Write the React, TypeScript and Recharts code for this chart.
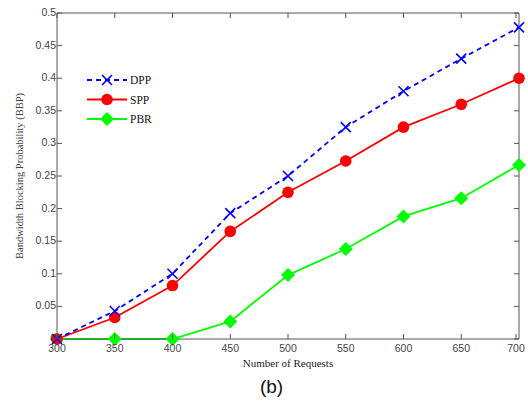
import React from "react";
import { LineChart, Line, XAxis, YAxis } from "recharts";

const requests = [300, 350, 400, 450, 500, 550, 600, 650, 700];
const dpp = [0, 0.043, 0.1, 0.193, 0.25, 0.325, 0.38, 0.43, 0.478];
const spp = [0, 0.033, 0.082, 0.165, 0.225, 0.273, 0.325, 0.36, 0.4];
const pbr = [0, 0, 0, 0.027, 0.098, 0.138, 0.188, 0.216, 0.267];
const yTicks = [0, 0.05, 0.1, 0.15, 0.2, 0.25, 0.3, 0.35, 0.4, 0.45, 0.5];

const data = requests.map((r, i) => ({
  req: r,
  DPP: dpp[i],
  SPP: spp[i],
  PBR: pbr[i],
}));

const axisColor = "#555555";
const tickColor = "#444444";

const CrossDot = (props: any) => {
  const { cx, cy } = props;
  if (cx == null || cy == null) return null;
  const s = 5;
  return (
    <g stroke="#0000ff" strokeWidth={1.6}>
      <line x1={cx - s} y1={cy - s} x2={cx + s} y2={cy + s} />
      <line x1={cx - s} y1={cy + s} x2={cx + s} y2={cy - s} />
    </g>
  );
};

const CircleDot = (props: any) => {
  const { cx, cy } = props;
  if (cx == null || cy == null) return null;
  return <circle cx={cx} cy={cy} r={5.8} fill="#ff0000" />;
};

const DiamondDot = (props: any) => {
  const { cx, cy } = props;
  if (cx == null || cy == null) return null;
  const s = 7;
  return (
    <polygon
      points={`${cx},${cy - s} ${cx + s},${cy} ${cx},${cy + s} ${cx - s},${cy}`}
      fill="#00ff00"
    />
  );
};

// ticks point inward like the MATLAB figure
const BottomTick = (props: any) => {
  const { x, y, payload } = props;
  return (
    <g>
      <line x1={x} y1={y} x2={x} y2={y - 5} stroke={axisColor} />
      <text x={x} y={y + 13} textAnchor="middle" fontSize={10.5} fill={tickColor} fontFamily="Arial, Liberation Sans, sans-serif">
        {payload.value}
      </text>
    </g>
  );
};

const TopTick = (props: any) => {
  const { x, y } = props;
  return <line x1={x} y1={y} x2={x} y2={y + 5} stroke={axisColor} />;
};

const LeftTick = (props: any) => {
  const { x, y, payload } = props;
  return (
    <g>
      <line x1={x} y1={y} x2={x + 5} y2={y} stroke={axisColor} />
      <text x={x - 1} y={y + 3} textAnchor="end" fontSize={10.5} fill={tickColor} fontFamily="Arial, Liberation Sans, sans-serif">
        {payload.value}
      </text>
    </g>
  );
};

const RightTick = (props: any) => {
  const { x, y } = props;
  return <line x1={x} y1={y} x2={x - 5} y2={y} stroke={axisColor} />;
};

const legendRows = [
  { name: "DPP", color: "#0000ff", dash: "5 4", Dot: CrossDot },
  { name: "SPP", color: "#ff0000", dash: undefined, Dot: CircleDot },
  { name: "PBR", color: "#00ff00", dash: undefined, Dot: DiamondDot },
];

const LegendBox = () => (
  <svg width={80} height={60} style={{ position: "absolute", left: 85, top: 70 }}>
    {legendRows.map((r, i) => {
      const y = 10 + i * 19.5;
      const D = r.Dot;
      return (
        <g key={r.name}>
          <line x1={2} y1={y} x2={42} y2={y} stroke={r.color} strokeWidth={1.8} strokeDasharray={r.dash} />
          <D cx={22} cy={y} />
          <text x={45} y={y + 4} fontSize={11.5} fontFamily="Times New Roman, Liberation Serif, serif" fill="#111">
            {r.name}
          </text>
        </g>
      );
    })}
  </svg>
);

export default function App() {
  return (
    <div style={{ position: "absolute", left: 0, top: 0, width: 528, height: 404, background: "#fff" }}>
      <LineChart
        width={528}
        height={404}
        data={data}
        margin={{ top: 12, right: 8, left: 0, bottom: 35 }}
      >
        <XAxis
          dataKey="req"
          type="number"
          domain={[300, 700]}
          ticks={requests}
          tickLine={false}
          tickSize={0}
          tickMargin={0}
          tick={<BottomTick />}
          axisLine={{ stroke: axisColor }}
          height={30}
          label={{
            value: "Number of Requests",
            position: "insideBottom",
            offset: 2,
            style: { fontSize: 11, fill: "#222", fontFamily: "Times New Roman, Liberation Serif, serif" },
          }}
        />
        <XAxis
          xAxisId="top"
          dataKey="req"
          type="number"
          orientation="top"
          domain={[300, 700]}
          ticks={requests}
          tickLine={false}
          tickSize={0}
          tickMargin={0}
          tick={<TopTick />}
          axisLine={{ stroke: axisColor }}
          height={1}
        />
        <YAxis
          type="number"
          domain={[0, 0.5]}
          ticks={yTicks}
          tickLine={false}
          tickSize={0}
          tickMargin={0}
          tick={<LeftTick />}
          axisLine={{ stroke: axisColor }}
          width={57}
          label={{
            value: "Bandwidth Blocking Probability (BBP)",
            angle: -90,
            position: "insideLeft",
            offset: 19,
            style: { textAnchor: "middle", fontSize: 10.5, fill: "#444", fontFamily: "Times New Roman, Liberation Serif, serif" },
          }}
        />
        <YAxis
          yAxisId="right"
          orientation="right"
          type="number"
          domain={[0, 0.5]}
          ticks={yTicks}
          tickLine={false}
          tickSize={0}
          tickMargin={0}
          tick={<RightTick />}
          axisLine={{ stroke: axisColor }}
          width={1}
        />
        {/* invisible series so the top/right frame axes get rendered */}
        <Line
          xAxisId="top"
          yAxisId="right"
          dataKey="DPP"
          stroke="none"
          dot={false}
          activeDot={false}
          legendType="none"
          isAnimationActive={false}
        />
        <Line
          dataKey="PBR"
          stroke="#00ff00"
          strokeWidth={1.8}
          dot={<DiamondDot />}
          activeDot={false}
          isAnimationActive={false}
        />
        <Line
          dataKey="SPP"
          stroke="#ff0000"
          strokeWidth={1.8}
          dot={<CircleDot />}
          activeDot={false}
          isAnimationActive={false}
        />
        <Line
          dataKey="DPP"
          stroke="#0000ff"
          strokeWidth={1.8}
          strokeDasharray="5 4"
          dot={<CrossDot />}
          activeDot={false}
          isAnimationActive={false}
        />
      </LineChart>
      <LegendBox />
      <div
        style={{
          position: "absolute",
          left: 0,
          top: 376,
          width: 543,
          textAlign: "center",
          fontSize: 19,
          fontFamily: "Arial, Liberation Sans, sans-serif",
          color: "#111",
        }}
      >
        (b)
      </div>
    </div>
  );
}
